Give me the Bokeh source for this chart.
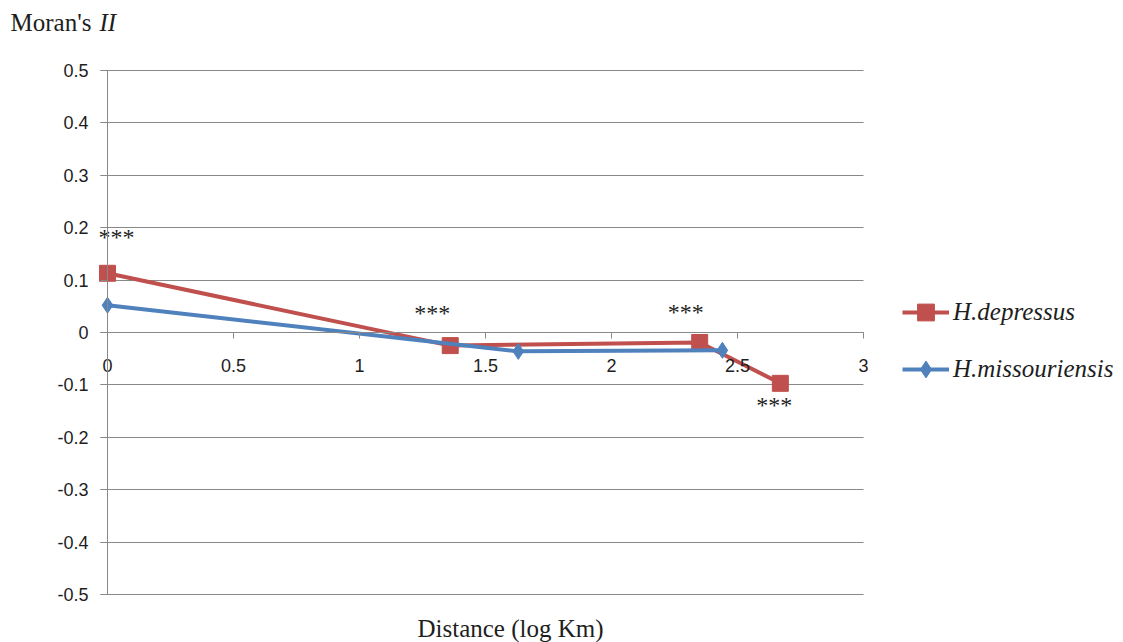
from bokeh.plotting import figure
from bokeh.models import Range1d, FixedTicker, Label, Legend, LegendItem, ColumnDataSource
from bokeh.core.properties import value
from bokeh.embed import file_html
from bokeh.resources import INLINE

# ---- data ----
dep_x = [0.0, 1.36, 2.35, 2.67]
dep_y = [0.113, -0.025, -0.019, -0.097]
mis_x = [0.0, 1.63, 2.44]
mis_y = [0.052, -0.036, -0.034]
sig_labels = ["***", "***", "***", "***"]
x_ticks = [0, 0.5, 1, 1.5, 2, 2.5, 3]
x_tick_labels = ["0", "0.5", "1", "1.5", "2", "2.5", "3"]
y_ticks = [-0.5, -0.4, -0.3, -0.2, -0.1, 0, 0.1, 0.2, 0.3, 0.4, 0.5]
y_tick_labels = ["-0.5", "-0.4", "-0.3", "-0.2", "-0.1", "0", "0.1", "0.2", "0.3", "0.4", "0.5"]
series_names = ["H.depressus", "H.missouriensis"]

RED = "#C0504D"
BLUE = "#4F81BD"
GRID = "#898989"
TXT = "#1e1e1e"
W, H = 1123, 642

# layout of the plot area on the canvas (pixels)
X0_PX, PX_PER_X = 107, 252.0     # x = 0 at 107 px, 252 px per unit
Y0_PX, PX_PER_Y = 332, 524.0     # y = 0 at 332 px from top, 524 px per unit

p = figure(width=W, height=H, output_backend="svg", toolbar_location=None,
           x_range=Range1d(-X0_PX / PX_PER_X, (W - X0_PX) / PX_PER_X),
           y_range=Range1d(-(H - Y0_PX) / PX_PER_Y, Y0_PX / PX_PER_Y),
           min_border=0)
p.outline_line_color = None
p.background_fill_color = "white"
p.border_fill_color = "white"

p.xgrid.visible = False
p.ygrid.ticker = FixedTicker(ticks=y_ticks)
p.ygrid.grid_line_color = GRID
p.ygrid.grid_line_width = 1
p.ygrid.cross_bounds = (-7 / PX_PER_X, x_ticks[-1])

for ax in (p.xaxis[0], p.yaxis[0]):
    ax.fixed_location = 0
    ax.axis_line_color = GRID
    ax.major_tick_line_color = GRID
    ax.minor_tick_line_color = None
    ax.major_tick_in = 0
    ax.major_label_text_font = "Liberation Sans"
    ax.major_label_text_font_size = "18px"
    ax.major_label_text_color = TXT

p.xaxis.ticker = FixedTicker(ticks=x_ticks)
p.xaxis.bounds = (x_ticks[0], x_ticks[-1])
p.xaxis.major_label_overrides = {t: l for t, l in zip(x_ticks, x_tick_labels)}
p.xaxis.major_tick_out = 6
p.xaxis.major_label_standoff = 20

p.yaxis.ticker = FixedTicker(ticks=y_ticks)
p.yaxis.bounds = (y_ticks[0], y_ticks[-1])
p.yaxis.major_label_overrides = {t: l for t, l in zip(y_ticks, y_tick_labels)}
p.yaxis.major_tick_out = 7
p.yaxis.major_label_standoff = 12

# ---- series ----
l1 = p.line(dep_x, dep_y, line_color=RED, line_width=4)
s1 = p.scatter(dep_x, dep_y, marker="square", size=16, fill_color=RED, line_color=RED)
l2 = p.line(mis_x, mis_y, line_color=BLUE, line_width=4)
s2 = p.scatter(mis_x, mis_y, marker="diamond", size=16, fill_color=BLUE, line_color=BLUE)

# significance marks next to the H.depressus points
star_src = ColumnDataSource(dict(x=dep_x, y=dep_y, t=sig_labels,
                                 dx=[9, -18, -14, -6], dy=[-36, -33, -30, 22]))
p.text(x="x", y="y", text="t", x_offset="dx", y_offset="dy", source=star_src,
       text_font=value("Liberation Serif"), text_font_size="24px",
       text_align="center", text_baseline="middle", text_color=TXT)

# ---- legend ----
legend = Legend(items=[LegendItem(label=series_names[0], renderers=[l1, s1]),
                       LegendItem(label=series_names[1], renderers=[l2, s2])],
                location=(902, 252), glyph_width=47, glyph_height=42, label_height=20,
                spacing=15, label_standoff=4, padding=0, margin=0, border_line_color=None,
                background_fill_alpha=0, label_text_font="Liberation Serif",
                label_text_font_style="italic", label_text_font_size="25px",
                label_text_color=TXT)
p.add_layout(legend)

# ---- titles ----
p.add_layout(Label(x=10, y=H - 22, x_units="screen", y_units="screen", text="Moran's ",
                   text_font="Liberation Serif", text_font_size="25px",
                   text_baseline="alphabetic", text_color=TXT))
p.add_layout(Label(x=99, y=H - 22, x_units="screen", y_units="screen", text="II",
                   text_font="Liberation Serif", text_font_size="25px", text_font_style="italic",
                   text_baseline="alphabetic", text_color=TXT))
p.add_layout(Label(x=510, y=H - 628, x_units="screen", y_units="screen",
                   text="Distance (log Km)", text_align="center",
                   text_font="Liberation Serif", text_font_size="25px",
                   text_baseline="alphabetic", text_color=TXT))

open("out.html", "w").write(file_html(p, INLINE))
